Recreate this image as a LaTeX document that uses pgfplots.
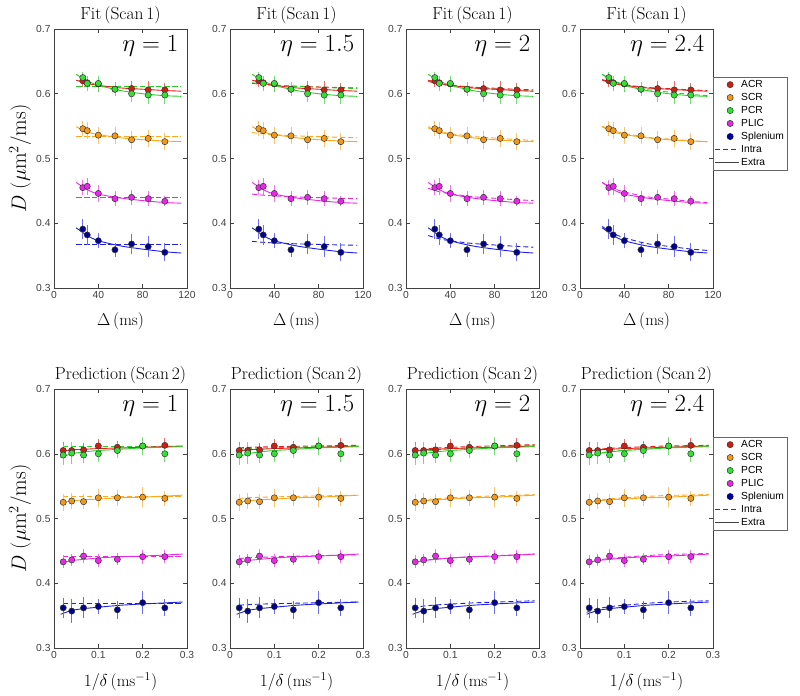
\documentclass[border=0pt]{standalone}
\usepackage{fontspec}
\usepackage{pgfplots}
\usepackage{pgfplotstable}
\pgfplotsset{compat=1.18}
\newfontfamily\arial{Liberation Sans}

\definecolor{acrc}{rgb}{0.95,0.10,0.10}
\definecolor{acrm}{rgb}{0.80,0.12,0.08}
\definecolor{scrc}{rgb}{1.00,0.65,0.10}
\definecolor{scrm}{rgb}{0.95,0.60,0.10}
\definecolor{pcrc}{rgb}{0.15,0.82,0.15}
\definecolor{pcrm}{rgb}{0.20,0.88,0.20}
\definecolor{plicc}{rgb}{0.92,0.15,0.92}
\definecolor{splc}{rgb}{0.12,0.12,0.90}
\definecolor{splm}{rgb}{0.00,0.00,0.58}

% measured points, scan 1 (Delta) and scan 2 (1/delta)
\pgfplotstableread{
x   acr   acre  scr   scre  pcr   pcre  plic  plice spl   sple
26  0.620 0.010 0.546 0.012 0.625 0.009 0.455 0.012 0.391 0.016
30  0.617 0.011 0.543 0.013 0.616 0.012 0.457 0.013 0.382 0.016
40  0.615 0.012 0.536 0.013 0.616 0.012 0.446 0.013 0.373 0.012
55  0.607 0.011 0.535 0.013 0.607 0.011 0.438 0.012 0.359 0.011
70  0.608 0.012 0.529 0.014 0.600 0.013 0.440 0.012 0.368 0.016
85  0.606 0.013 0.531 0.013 0.598 0.014 0.438 0.012 0.364 0.016
100 0.606 0.011 0.526 0.013 0.598 0.014 0.434 0.008 0.355 0.014
}\ptsTop
\pgfplotstableread{
x      acr   acre  scr   scre  pcr   pcre  plic  plice spl   sple
0.0208 0.605 0.013 0.525 0.013 0.598 0.015 0.433 0.010 0.362 0.015
0.04   0.605 0.013 0.527 0.013 0.601 0.017 0.436 0.009 0.357 0.018
0.0667 0.606 0.011 0.526 0.012 0.598 0.013 0.442 0.011 0.362 0.016
0.1    0.612 0.011 0.532 0.014 0.600 0.013 0.435 0.010 0.364 0.011
0.1429 0.610 0.010 0.532 0.012 0.605 0.011 0.437 0.009 0.359 0.014
0.2    0.612 0.012 0.533 0.016 0.612 0.014 0.441 0.011 0.370 0.018
0.25   0.613 0.011 0.531 0.012 0.600 0.013 0.441 0.010 0.362 0.013
}\ptsBot

% fitted curves, scan 1
\pgfplotstableread{
x   acr   pcr   scr   plic  spl
20  0.621 0.630 0.549 0.463 0.393
30  0.616 0.620 0.541 0.452 0.381
40  0.613 0.613 0.537 0.445 0.373
60  0.609 0.605 0.532 0.439 0.365
80  0.607 0.600 0.529 0.435 0.360
100 0.605 0.597 0.527 0.432 0.356
115 0.604 0.596 0.526 0.431 0.354
}\extraTop
\pgfplotstableread{
x   acr   pcr   scr   plic  spl
20  0.611 0.612 0.534 0.440 0.368
115 0.611 0.612 0.534 0.440 0.368
}\intraTopA
\pgfplotstableread{
x   acr    pcr    scr    plic   spl
20  0.616  0.617  0.540  0.445  0.372
30  0.6143 0.6148 0.538  0.4433 0.3705
40  0.6132 0.6134 0.5368 0.4422 0.3696
60  0.6116 0.6113 0.535  0.4406 0.3682
80  0.6105 0.6100 0.5338 0.4395 0.3673
100 0.6096 0.6088 0.5327 0.4386 0.3665
115 0.609  0.608  0.532  0.438  0.366
}\intraTopB
\pgfplotstableread{
x   acr    pcr    scr    plic   spl
20  0.619  0.620  0.547  0.454  0.381
30  0.6154 0.6155 0.5417 0.4487 0.3760
40  0.6132 0.6128 0.5385 0.4455 0.3729
60  0.6102 0.6091 0.5341 0.4411 0.3688
80  0.6085 0.6070 0.5316 0.4386 0.3664
100 0.6069 0.6051 0.5293 0.4363 0.3643
115 0.606  0.604  0.528  0.435  0.363
}\intraTopC
\pgfplotstableread{
x   acr    pcr    scr    plic   spl
20  0.622  0.630  0.550  0.463  0.395
30  0.6171 0.6204 0.5430 0.4540 0.3843
40  0.6140 0.6145 0.5387 0.4484 0.3776
60  0.6099 0.6066 0.5330 0.4410 0.3687
80  0.6079 0.6026 0.5301 0.4373 0.3643
100 0.6060 0.5990 0.5274 0.4339 0.3602
115 0.605  0.597  0.526  0.432  0.358
}\intraTopD

% predicted curves, scan 2
\pgfplotstableread{
x     acr   pcr   scr   plic  spl
0.015 0.604 0.594 0.524 0.431 0.352
0.04  0.606 0.600 0.527 0.435 0.358
0.07  0.607 0.603 0.529 0.437 0.361
0.1   0.608 0.605 0.530 0.439 0.363
0.15  0.609 0.607 0.532 0.441 0.366
0.2   0.610 0.609 0.533 0.442 0.368
0.29  0.612 0.611 0.536 0.445 0.371
}\extraBot
\pgfplotstableread{
x     acr   pcr   scr   plic  spl
0.02  0.612 0.611 0.534 0.441 0.369
0.29  0.612 0.611 0.534 0.441 0.369
}\intraBotA
\pgfplotstableread{
x     acr    pcr    scr    plic   spl
0.02  0.609  0.607  0.531  0.438  0.366
0.04  0.6098 0.608  0.532  0.4392 0.367
0.07  0.6104 0.6088 0.5328 0.4401 0.3678
0.1   0.6109 0.6094 0.5334 0.4408 0.3684
0.15  0.6115 0.6102 0.5342 0.4418 0.3692
0.2   0.6121 0.6109 0.5349 0.4426 0.3699
0.29  0.613  0.612  0.536  0.444  0.371
}\intraBotB
\pgfplotstableread{
x     acr    pcr    scr    plic   spl
0.015 0.605  0.601  0.526  0.432  0.362
0.04  0.6073 0.604  0.5288 0.4353 0.3648
0.07  0.6088 0.606  0.5306 0.4375 0.3666
0.1   0.6098 0.6074 0.5318 0.4389 0.3678
0.15  0.6112 0.6093 0.5336 0.441  0.3696
0.2   0.6123 0.6107 0.5349 0.4425 0.3709
0.29  0.614  0.613  0.537  0.445  0.373
}\intraBotC
\pgfplotstableread{
x     acr    pcr    scr    plic   spl
0.015 0.604  0.595  0.524  0.431  0.355
0.04  0.6069 0.6004 0.5282 0.4358 0.3608
0.07  0.6085 0.6035 0.5305 0.4385 0.364
0.1   0.6095 0.6054 0.5319 0.4402 0.366
0.15  0.611  0.6083 0.5341 0.4427 0.369
0.2   0.612  0.6101 0.5356 0.4444 0.371
0.29  0.613  0.612  0.537  0.446  0.373
}\intraBotD

\pgfplotsset{
  panel/.style={
    scale only axis, width=133bp, height=259bp, anchor=south west,
    ymin=0.3, ymax=0.7, ytick={0.3,0.4,0.5,0.6,0.7},
    yticklabel style={/pgf/number format/.cd, fixed, fixed zerofill, precision=1},
    tick align=inside, major tick length=4bp,
    tick label style={font=\arial\fontsize{10.3}{11}\selectfont, text=black!75},
    /pgf/number format/assume math mode=true,
    axis line style={black!75, line width=0.6bp},
    tick style={black!75, line width=0.5bp},
    every axis title shift=0pt,
    title style={font=\fontsize{17.5}{20}\selectfont, at={(axis description cs:0.5,1.008)}, anchor=south},
    xlabel style={font=\fontsize{16.5}{20}\selectfont, at={(axis description cs:0.5,-0.13)}, anchor=center},
    ylabel style={font=\fontsize{21.5}{24}\selectfont, at={(axis description cs:-0.255,0.5)}, anchor=center},
    legend cell align=left,
    legend style={at={(1.0,0.815)}, anchor=north west,
      font=\arial\fontsize{10.3}{11}\selectfont, draw=black!60, inner sep=1.2bp, row sep=0.3bp},
  },
  toprow/.style={panel, xmin=0, xmax=120, xtick={0,40,80,120},
    title={Fit\,(Scan\,1)}, xlabel={$\Delta\,(\mathrm{ms})$}},
  botrow/.style={panel, xmin=0, xmax=0.3, xtick={0,0.1,0.2,0.3},
    title={Prediction\,(Scan\,2)}, xlabel={$1/\delta\,(\mathrm{ms}^{-1})$}},
  pt/.style 2 args={only marks, mark=*, mark size=3.1bp, forget plot,
    mark options={solid, fill=#1, draw=black!80, line width=0.5bp},
    error bars/y dir=both, error bars/y explicit, error bars/error mark=none,
    error bars/error bar style={#2!65, line width=0.8bp, solid}},
  intra/.style={#1, line width=0.9bp, dash pattern=on 5bp off 3bp, smooth, forget plot},
  extra/.style={#1, line width=0.9bp, smooth, forget plot},
}

\newcommand\curves[2]{%
  \addplot[intra=acrc]  table[x=x,y=acr]{#1};
  \addplot[intra=scrc]  table[x=x,y=scr]{#1};
  \addplot[intra=pcrc]  table[x=x,y=pcr]{#1};
  \addplot[intra=plicc] table[x=x,y=plic]{#1};
  \addplot[intra=splc]  table[x=x,y=spl]{#1};
  \addplot[extra=acrc]  table[x=x,y=acr]{#2};
  \addplot[extra=scrc]  table[x=x,y=scr]{#2};
  \addplot[extra=pcrc]  table[x=x,y=pcr]{#2};
  \addplot[extra=plicc] table[x=x,y=plic]{#2};
  \addplot[extra=splc]  table[x=x,y=spl]{#2};
}
\newcommand\points[1]{%
  \addplot[pt={acrm}{acrc}]   table[x=x,y=acr,y error=acre]{#1};
  \addplot[pt={scrm}{scrc}]   table[x=x,y=scr,y error=scre]{#1};
  \addplot[pt={pcrm}{pcrc}]   table[x=x,y=pcr,y error=pcre]{#1};
  \addplot[pt={plicc}{plicc}] table[x=x,y=plic,y error=plice]{#1};
  \addplot[pt={splm}{splc}]   table[x=x,y=spl,y error=sple]{#1};
}
\newcommand\etalab[1]{\node[anchor=east, font=\fontsize{28}{30}\selectfont]
  at (rel axis cs:0.96,0.935) {$\eta = #1$};}
\newcommand\legmark[2]{\addlegendimage{legend image code/.code={%
  \node[circle, fill=#1, draw=#2, line width=0.5bp, inner sep=0pt, minimum size=6.2bp] at (12bp,0bp) {};}}}
\newcommand\legline[1]{\addlegendimage{legend image code/.code={%
  \draw[black!75, line width=0.8bp, #1] (0bp,0bp) -- (24bp,0bp);}}}
\newcommand\legbox{%
  \legmark{acrm}{black!80}\addlegendentry{ACR}
  \legmark{scrm}{black!80}\addlegendentry{SCR}
  \legmark{pcrm}{black!80}\addlegendentry{PCR}
  \legmark{plicc}{black!80}\addlegendentry{PLIC}
  \legmark{splm}{splm}\addlegendentry{Splenium}
  \legline{dash pattern=on 5bp off 3bp}\addlegendentry{Intra}
  \legline{solid}\addlegendentry{Extra\hspace{14bp}}
}

\begin{document}
\begin{tikzpicture}
\useasboundingbox (0,0) rectangle (800bp,696bp);

\begin{axis}[toprow, at={(54bp,408bp)}, ylabel={$D\;(\mu\mathrm{m}^2/\mathrm{ms})$}]
\curves{\intraTopA}{\extraTop}
\points{\ptsTop}
\etalab{1}
\end{axis}
\begin{axis}[toprow, at={(230bp,408bp)}]
\curves{\intraTopB}{\extraTop}
\points{\ptsTop}
\etalab{1.5}
\end{axis}
\begin{axis}[toprow, at={(406bp,408bp)}]
\curves{\intraTopC}{\extraTop}
\points{\ptsTop}
\etalab{2}
\end{axis}
\begin{axis}[toprow, at={(580bp,408bp)}]
\legbox
\curves{\intraTopD}{\extraTop}
\points{\ptsTop}
\etalab{2.4}
\end{axis}

\begin{axis}[botrow, at={(54bp,48bp)}, ylabel={$D\;(\mu\mathrm{m}^2/\mathrm{ms})$}]
\curves{\intraBotA}{\extraBot}
\points{\ptsBot}
\etalab{1}
\end{axis}
\begin{axis}[botrow, at={(230bp,48bp)}]
\curves{\intraBotB}{\extraBot}
\points{\ptsBot}
\etalab{1.5}
\end{axis}
\begin{axis}[botrow, at={(406bp,48bp)}]
\curves{\intraBotC}{\extraBot}
\points{\ptsBot}
\etalab{2}
\end{axis}
\begin{axis}[botrow, at={(580bp,48bp)}]
\legbox
\curves{\intraBotD}{\extraBot}
\points{\ptsBot}
\etalab{2.4}
\end{axis}
\end{tikzpicture}
\end{document}
